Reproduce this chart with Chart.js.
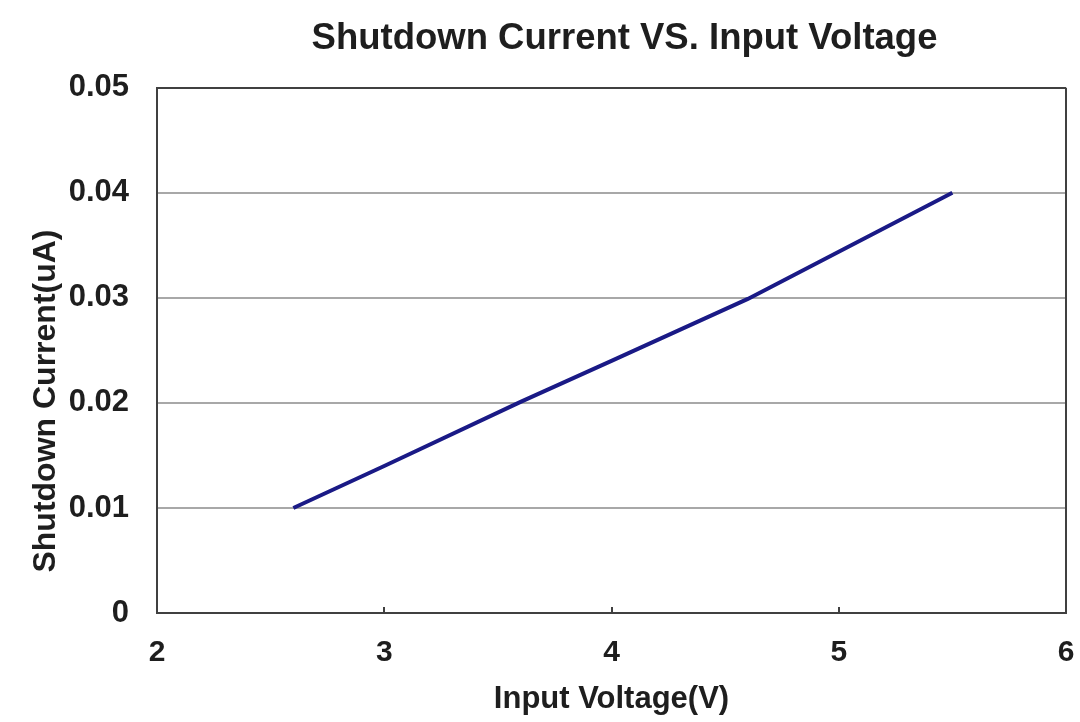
<!DOCTYPE html>
<html>
<head>
<meta charset="utf-8">
<style>
  html, body { margin: 0; padding: 0; background: #fff; }
  #wrap { width: 1080px; height: 722px; }
</style>
<script src="https://cdn.jsdelivr.net/npm/chart.js@4/dist/chart.umd.min.js"></script>
</head>
<body>
<div id="wrap"><canvas id="shutdownChart" width="1080" height="722"></canvas></div>
<script>
const voltage = [2.6, 3.0, 3.6, 4.0, 4.6, 5.0, 5.5];
const current = [0.0100, 0.0140, 0.0201, 0.0240, 0.0299, 0.0344, 0.0400];
const xTicks = [2, 3, 4, 5, 6];
const yTicks = [0, 0.01, 0.02, 0.03, 0.04, 0.05];
const yTitle = 'Shutdown Current(uA)';

const textColor = '#1e1e1e';
const fontFamily = '"Liberation Sans", Arial, sans-serif';

// title sits a bit right of the canvas centre, y title a bit below the axis centre
const layoutTweaks = {
    id: 'layoutTweaks',
    afterLayout(chart) {
        if (chart.titleBlock) {
            chart.titleBlock.left = 169;
            chart.titleBlock.right = 1080;
        }
    },
    afterDraw(chart) {
        const ctx = chart.ctx;
        const x = chart.scales.x;
        const area = chart.chartArea;
        ctx.save();
        // small inward ticks on the x axis
        ctx.strokeStyle = '#404040';
        ctx.lineWidth = 2;
        xTicks.slice(1, -1).forEach(v => {
            const px = Math.round(x.getPixelForValue(v));
            ctx.beginPath();
            ctx.moveTo(px, area.bottom);
            ctx.lineTo(px, area.bottom - 6);
            ctx.stroke();
        });
        // right frame line
        ctx.beginPath();
        ctx.moveTo(area.right, area.top);
        ctx.lineTo(area.right, area.bottom);
        ctx.stroke();
        // y axis title
        ctx.translate(46, 401);
        ctx.rotate(-Math.PI / 2);
        ctx.fillStyle = textColor;
        ctx.font = 'bold 32px ' + fontFamily;
        ctx.textAlign = 'center';
        ctx.textBaseline = 'middle';
        ctx.fillText(yTitle, 0, 0);
        ctx.restore();
    }
};

const data = voltage.map((v, i) => ({ x: v, y: current[i] }));

new Chart(document.getElementById('shutdownChart'), {
    type: 'scatter',
    data: {
        datasets: [{
            data: data,
            showLine: true,
            borderColor: '#1a1a86',
            borderWidth: 4,
            pointRadius: 0,
            tension: 0
        }]
    },
    options: {
        responsive: false,
        animation: false,
        layout: { padding: { left: 0, right: 14, top: 0, bottom: 0 } },
        plugins: {
            legend: { display: false },
            tooltip: { enabled: false },
            title: {
                display: true,
                text: 'Shutdown Current VS. Input Voltage',
                color: textColor,
                font: { family: fontFamily, size: 36.5, weight: 'bold' },
                padding: { top: 17, bottom: 27 }
            }
        },
        scales: {
            x: {
                type: 'linear',
                min: 2,
                max: 6,
                afterBuildTicks: s => { s.ticks = xTicks.map(v => ({ value: v })); },
                afterFit: s => {
                    s.height = 109;
                    s.paddingLeft = 0;
                    s.paddingRight = 0;
                },
                grid: { display: false, drawTicks: false },
                border: { display: true, color: '#404040', width: 2 },
                ticks: {
                    color: textColor,
                    padding: 22,
                    font: { family: fontFamily, size: 30, weight: 'bold' }
                },
                title: {
                    display: true,
                    text: 'Input Voltage(V)',
                    color: textColor,
                    font: { family: fontFamily, size: 31, weight: 'bold' },
                    padding: { top: 0, bottom: 4 }
                }
            },
            y: {
                type: 'linear',
                min: 0,
                max: 0.05,
                afterBuildTicks: s => { s.ticks = yTicks.map(v => ({ value: v })); },
                afterFit: s => { s.width = 157; },
                grid: {
                    drawTicks: false,
                    lineWidth: 2,
                    color: ctx => ctx.tick && ctx.tick.value === 0.05 ? '#404040' : '#a8a8a8'
                },
                border: { display: true, color: '#404040', width: 2 },
                ticks: {
                    color: textColor,
                    padding: 28,
                    font: { family: fontFamily, size: 31, weight: 'bold' },
                    callback: v => v === 0 ? '0' : v.toFixed(2)
                },
                title: { display: false }
            }
        }
    },
    plugins: [layoutTweaks]
});
</script>
</body>
</html>
